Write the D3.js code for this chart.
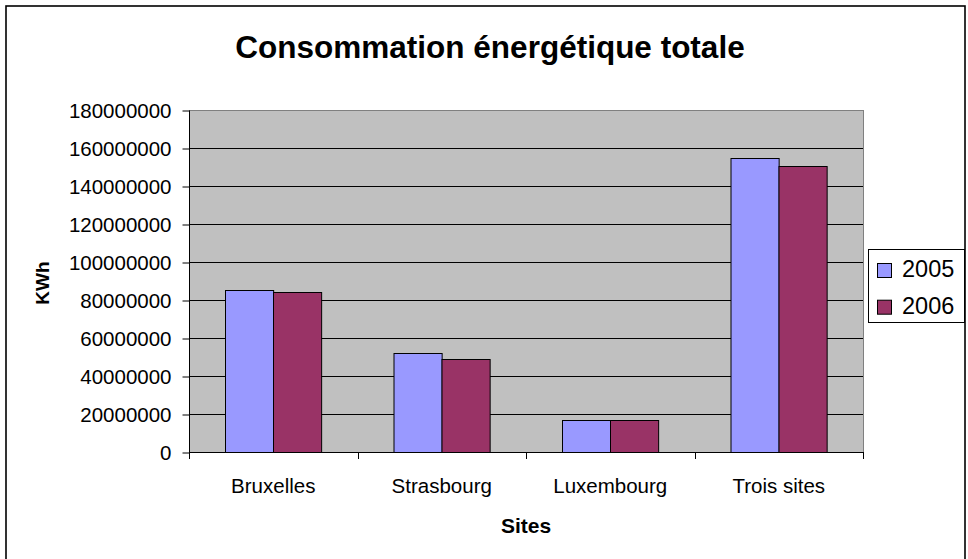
<!DOCTYPE html>
<html>
<head>
<meta charset="utf-8">
<script src="https://cdn.jsdelivr.net/npm/d3@7"></script>
<style>
  body { margin: 0; background: #fff; }
  svg { font-family: "Liberation Sans", Arial, sans-serif; }
</style>
</head>
<body>
<svg id="chart" width="968" height="559"></svg>
<script>
"use strict";

// values
const categories = ["Bruxelles", "Strasbourg", "Luxembourg", "Trois sites"];
const years = ["2005", "2006"];
const values2005 = [85500000, 52300000, 16800000, 154500000];
const values2006 = [84200000, 48800000, 16800000, 150300000];
const yTicks = [0, 20000000, 40000000, 60000000, 80000000, 100000000,
    120000000, 140000000, 160000000, 180000000];
const colors = ["#9999FF", "#993366"];

const series = [values2005, values2006];

const svg = d3.select("#chart"),
    plot = { left: 189, right: 863, top: 110, bottom: 452 };

// outer border (bottom edge falls outside the picture)
svg.append("rect")
    .attr("x", 6).attr("y", 6)
    .attr("width", 959).attr("height", 560)
    .attr("fill", "#fff").attr("stroke", "#000").attr("stroke-width", 1.6);

const x0 = d3.scaleBand()
    .domain(categories)
    .range([plot.left, plot.right])
    .padding(0);
const x1 = d3.scaleBand()
    .domain(years)
    .range([0, x0.step()])
    .paddingInner(0)
    .paddingOuter(0.75);
const y = d3.scaleLinear()
    .domain([0, 180000000])
    .range([plot.bottom, plot.top]);

// plot background
svg.append("rect")
    .attr("x", plot.left).attr("y", plot.top)
    .attr("width", plot.right - plot.left)
    .attr("height", plot.bottom - plot.top)
    .attr("fill", "#C0C0C0");

// grid
svg.append("g")
    .selectAll("line")
    .data(yTicks.filter(d => d > 0))
    .join("line")
    .attr("x1", plot.left).attr("x2", plot.right)
    .attr("y1", d => Math.round(y(d)) + 0.5)
    .attr("y2", d => Math.round(y(d)) + 0.5)
    .attr("stroke", d => d === 180000000 ? "#808080" : "#000")
    .attr("stroke-width", 1);

// right border of plot area
svg.append("line")
    .attr("x1", plot.right + 0.5).attr("x2", plot.right + 0.5)
    .attr("y1", plot.top).attr("y2", plot.bottom)
    .attr("stroke", "#808080");

// bars
const groups = svg.append("g")
    .selectAll("g")
    .data(categories)
    .join("g")
    .attr("transform", d => `translate(${x0(d)},0)`);

groups.selectAll("rect")
    .data((d, i) => years.map((yr, j) => ({ yr, v: series[j][i], j })))
    .join("rect")
    .attr("x", d => Math.round(x1(d.yr)) + 0.5)
    .attr("width", x1.bandwidth())
    .attr("y", d => Math.round(y(d.v)) + 0.5)
    .attr("height", d => Math.round(y(0)) - Math.round(y(d.v)))
    .attr("fill", d => colors[d.j])
    .attr("stroke", "#000")
    .attr("stroke-width", 1);

// y axis
const yAxis = svg.append("g")
    .attr("transform", `translate(${plot.left + 0.5},0.5)`)
    .call(d3.axisLeft(y).tickValues(yTicks).tickSize(7).tickPadding(11)
        .tickFormat(d3.format("d")));
yAxis.select(".domain").attr("stroke", "#000").attr("d",
    `M0,${plot.top}V${plot.bottom}`);
yAxis.selectAll(".tick line").attr("stroke", "#000");
yAxis.selectAll(".tick text")
    .attr("font-size", 20.5).attr("fill", "#000")
    .attr("font-family", "Liberation Sans, Arial, sans-serif");

// x axis
const xAxis = svg.append("g");
xAxis.append("line")
    .attr("x1", plot.left).attr("x2", plot.right)
    .attr("y1", plot.bottom + 0.5).attr("y2", plot.bottom + 0.5)
    .attr("stroke", "#000");
xAxis.selectAll(".sep")
    .data(categories.map(c => x0(c)).concat([x0.range()[1]]))
    .join("line")
    .attr("class", "sep")
    .attr("x1", d => Math.round(d) + 0.5).attr("x2", d => Math.round(d) + 0.5)
    .attr("y1", plot.bottom).attr("y2", plot.bottom + 7)
    .attr("stroke", "#000");
xAxis.selectAll("text")
    .data(categories)
    .join("text")
    .attr("x", d => x0(d) + x0.bandwidth() / 2)
    .attr("y", 493)
    .attr("text-anchor", "middle")
    .attr("font-size", 20.5)
    .text(d => d);

// titles
svg.append("text")
    .attr("x", 490).attr("y", 58)
    .attr("text-anchor", "middle")
    .attr("font-size", 31.5).attr("font-weight", "bold")
    .text("Consommation énergétique totale");

svg.append("text")
    .attr("x", 526).attr("y", 533)
    .attr("text-anchor", "middle")
    .attr("font-size", 21).attr("font-weight", "bold")
    .text("Sites");

svg.append("text")
    .attr("transform", "translate(49,283) rotate(-90)")
    .attr("text-anchor", "middle")
    .attr("font-size", 19).attr("font-weight", "bold")
    .text("KWh");

// legend
const legend = svg.append("g");
legend.append("rect")
    .attr("x", 868.5).attr("y", 249.5)
    .attr("width", 96).attr("height", 73)
    .attr("fill", "#fff").attr("stroke", "#000");
legend.selectAll(".item")
    .data(years)
    .join("g")
    .attr("class", "item")
    .attr("transform", (d, i) => `translate(0,${i * 36.7})`)
    .call(g => {
        g.append("rect")
            .attr("x", 877.5).attr("y", 263.5)
            .attr("width", 14).attr("height", 14)
            .attr("fill", (d, i) => colors[i]).attr("stroke", "#000");
        g.append("text")
            .attr("x", 902).attr("y", 277)
            .attr("font-size", 23.5)
            .text(d => d);
    });
</script>
</body>
</html>
